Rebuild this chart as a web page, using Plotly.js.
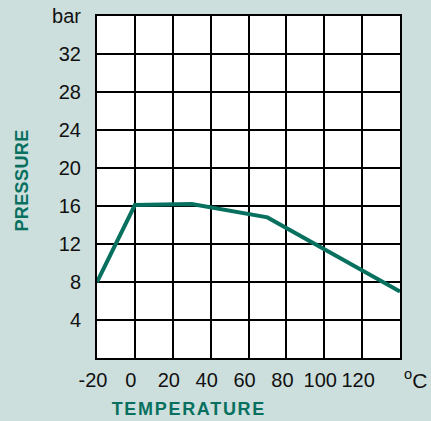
<!DOCTYPE html>
<html>
<head>
<meta charset="utf-8">
<script src="https://cdn.plot.ly/plotly-3.0.1.min.js"></script>
<style>
  html, body { margin: 0; padding: 0; background: #cddfdc; }
  #chart { width: 431px; height: 421px; }
  g.annotation[data-index="0"] text { letter-spacing: 1.7px; }
  g.annotation[data-index="1"] text { letter-spacing: 0.4px; }
</style>
</head>
<body>
<div id="chart"></div>
<script>
// Data
const temperature = [-20, 0, 30, 70, 140];
const pressure = [8, 16.1, 16.2, 14.8, 7];

const xTickVals = [-20, 0, 20, 40, 60, 80, 100, 120];
const xTickText = ['-20', '0', '20', '40', '60', '80', '100', '120'];
const yTickVals = [4, 8, 12, 16, 20, 24, 28, 32, 36];
const yTickText = ['4', '8', '12', '16', '20', '24', '28', '32', 'bar'];

const xTitle = 'TEMPERATURE';
const yTitle = 'PRESSURE';
const xUnit = '<sup>o</sup>C';

const teal = '#08705f';
const bg = '#cddfdc';

const trace = {
  x: temperature,
  y: pressure,
  type: 'scatter',
  mode: 'lines',
  line: { color: teal, width: 4 },
  hoverinfo: 'skip'
};

const layout = {
  width: 431,
  height: 421,
  paper_bgcolor: bg,
  plot_bgcolor: '#ffffff',
  margin: { l: 97, r: 31, t: 16, b: 63, pad: 0 },
  showlegend: false,
  font: { family: 'Liberation Sans, Arial, sans-serif', size: 20, color: '#111111' },
  xaxis: {
    range: [-20, 140],
    tickmode: 'array',
    tickvals: xTickVals,
    ticktext: xTickText,
    ticks: '',
    ticklabelshift: -4,
    ticklabelstandoff: 3,
    showgrid: true,
    gridcolor: '#000000',
    gridwidth: 2,
    zeroline: false,
    showline: true,
    linecolor: '#000000',
    linewidth: 2,
    mirror: true,
    fixedrange: true
  },
  yaxis: {
    range: [0, 36],
    tickmode: 'array',
    tickvals: yTickVals,
    ticktext: yTickText,
    ticks: '',
    ticklabelstandoff: 10,
    showgrid: true,
    gridcolor: '#000000',
    gridwidth: 2,
    zeroline: false,
    showline: true,
    linecolor: '#000000',
    linewidth: 2,
    mirror: true,
    fixedrange: true
  },
  annotations: [
    {
      text: '<b>' + xTitle + '</b>',
      xref: 'paper', yref: 'paper',
      x: 0.304, y: 0,
      xanchor: 'center', yanchor: 'middle',
      yshift: -51,
      showarrow: false,
      font: { family: 'Liberation Sans, Arial, sans-serif', size: 18, color: teal }
    },
    {
      text: '<b>' + yTitle + '</b>',
      xref: 'paper', yref: 'paper',
      x: 0, y: 0.5,
      xanchor: 'center', yanchor: 'middle',
      xshift: -75, yshift: 6,
      textangle: -90,
      showarrow: false,
      font: { family: 'Liberation Sans, Arial, sans-serif', size: 18, color: teal }
    },
    {
      text: xUnit,
      xref: 'x', yref: 'paper',
      x: 140, y: 0,
      xanchor: 'center', yanchor: 'middle',
      xshift: 15, yshift: -21,
      showarrow: false,
      font: { family: 'Liberation Sans, Arial, sans-serif', size: 21, color: '#111111' }
    }
  ]
};

Plotly.newPlot('chart', [trace], layout, { staticPlot: true, displayModeBar: false });
</script>
</body>
</html>
